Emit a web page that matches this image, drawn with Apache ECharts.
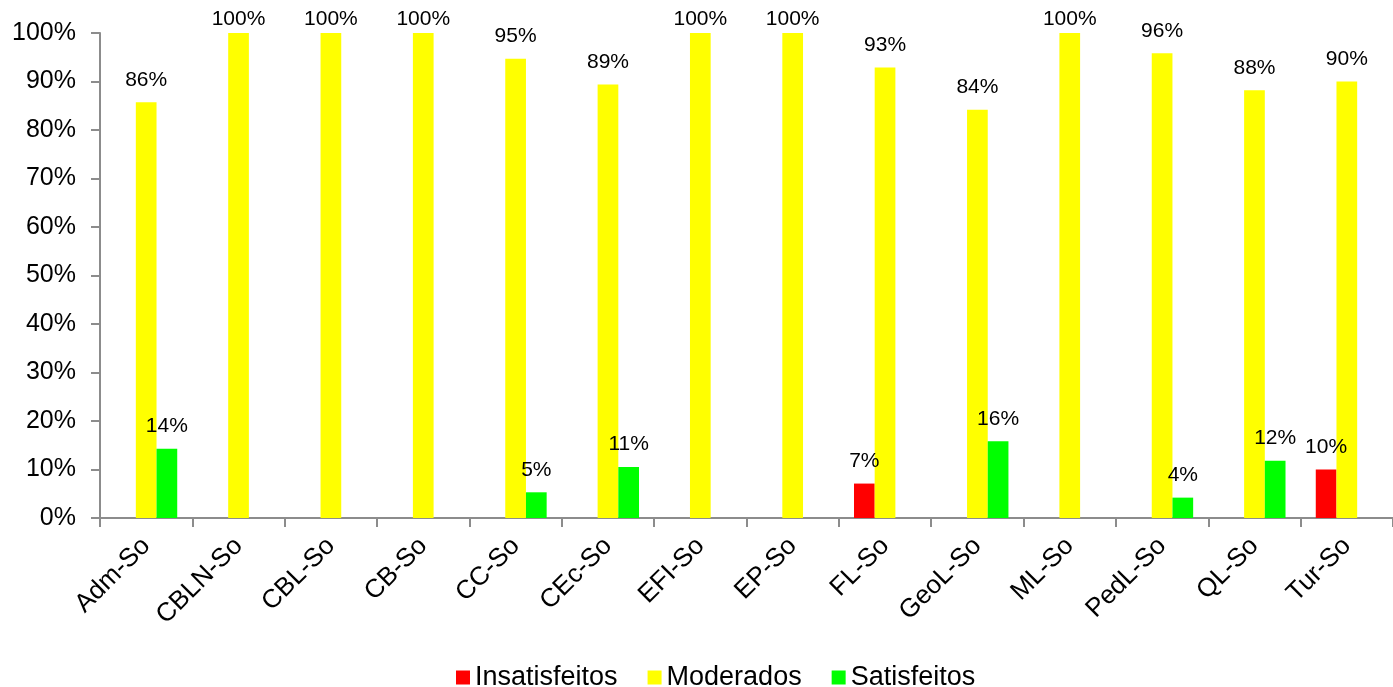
<!DOCTYPE html>
<html>
<head>
<meta charset="utf-8">
<script src="https://cdn.jsdelivr.net/npm/echarts@6/dist/echarts.min.js"></script>
<style>
html,body{margin:0;padding:0;background:#fff;}
#chart{width:1393px;height:687px;}
</style>
</head>
<body>
<div id="chart"></div>
<script>
const categories = ['Adm-So','CBLN-So','CBL-So','CB-So','CC-So','CEc-So','EFI-So','EP-So','FL-So','GeoL-So','ML-So','PedL-So','QL-So','Tur-So'];
const insatisfeitos = [null,null,null,null,null,null,null,null,7.1,null,null,null,null,10.0];
const moderados = [85.7,100,100,100,94.7,89.4,100,100,92.9,84.2,100,95.8,88.2,90.0];
const satisfeitos = [14.3,null,null,null,5.3,10.5,null,null,null,15.8,null,4.2,11.8,null];
const seriesNames = ['Insatisfeitos','Moderados','Satisfeitos'];
const yTicks = [0,10,20,30,40,50,60,70,80,90,100];

const FONT = '"Liberation Sans", Arial, sans-serif';
const chart = echarts.init(document.getElementById('chart'), null, {renderer:'canvas'});
const labelCfg = {
  show: true, position: 'top', distance: 12, color: '#000', fontFamily: FONT, fontSize: 21,
  formatter: p => (p.value == null ? '' : Math.round(p.value) + '%')
};
// labels at the top edge are pushed down inside the chart area (as in the original)
const toData = arr => arr.map(v => (v != null && v >= 99.5) ? {value: v, label: {distance: 3}} : v);
const mk = (name, data, color) => ({
  name, type: 'bar', data: toData(data), barWidth: 20.7, barGap: '0%',
  itemStyle: {color}, label: labelCfg, animation: false
});
chart.setOption({
  animation: false,
  grid: {left: 100, top: 33, width: 1296, bottom: 169, containLabel: false},
  legend: {
    data: seriesNames, top: 659, left: 451, itemWidth: 14, itemHeight: 14, itemGap: 30,
    icon: 'rect', textStyle: {fontFamily: FONT, fontSize: 27, color: '#000'}
  },
  xAxis: {
    type: 'category', data: categories,
    axisLine: {lineStyle: {color: '#8c8c8c', width: 2}},
    axisTick: {show: true, length: 9, lineStyle: {color: '#8c8c8c', width: 2}},
    axisLabel: {rotate: 45, margin: 24, fontFamily: FONT, fontSize: 26, color: '#000', interval: 0}
  },
  yAxis: {
    type: 'value', min: yTicks[0], max: yTicks[yTicks.length-1], interval: 10,
    splitLine: {show: false},
    axisLine: {show: true, lineStyle: {color: '#8c8c8c', width: 2}},
    axisTick: {show: true, length: 9, lineStyle: {color: '#8c8c8c', width: 2}},
    axisLabel: {margin: 24, fontFamily: FONT, fontSize: 25, color: '#000', formatter: v => v + '%'}
  },
  series: [
    mk(seriesNames[0], insatisfeitos, '#ff0000'),
    mk(seriesNames[1], moderados, '#ffff00'),
    mk(seriesNames[2], satisfeitos, '#00ff00')
  ]
});
</script>
</body>
</html>
